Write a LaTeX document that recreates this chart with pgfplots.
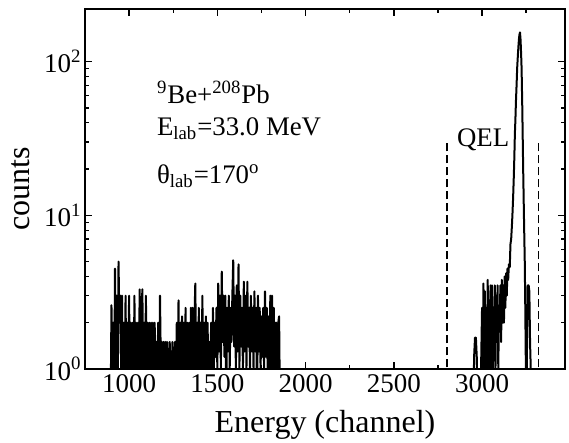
\documentclass[border=0pt]{standalone}
\usepackage{fontspec}
\setmainfont{Liberation Serif}
\usepackage{pgfplots}
\pgfplotsset{compat=1.18}

\begin{document}
\begin{tikzpicture}
\begin{axis}[
  scale only axis,
  width=240pt, height=180pt,
  xmin=750, xmax=3470,
  ymode=log, ymin=1, ymax=220,
  xtick={1000,1500,...,3000},
  minor xtick={1250,1750,2250,2750,3250},
  ytick={1,10,100},
  yticklabels={10\textsuperscript{0},10\textsuperscript{1},10\textsuperscript{2}},
  /pgf/number format/set thousands separator={},
  /pgf/number format/assume math mode=true,
  tick label style={font=\fontsize{13.5}{15}\selectfont},
  yticklabel style={inner xsep=1.5pt},
  xticklabel style={inner ysep=2.5pt},
  major tick length=3.5pt, minor tick length=2pt,
  every tick/.style={black, line width=0.7pt},
  axis line style={line width=0.8pt},
  xlabel={Energy (channel)},
  ylabel={counts},
  every axis x label/.style={at={(axis description cs:0.5,-0.156)}, anchor=center,
    font=\fontsize{16}{18}\selectfont},
  every axis y label/.style={at={(axis description cs:-0.135,0.5)}, rotate=90, anchor=center,
    font=\fontsize{16}{18}\selectfont},
  clip=true,
]

% low-energy part of the spectrum
\addplot[black, line width=1pt, line join=round] coordinates {
(895,0.5)(900,2.6)(905,1)(910,2)(915,0.5)(920,4.5)(925,1)(930,3)(935,0.5)(940,5)
(945,2)(950,3)(955,1)(960,3)(965,0.5)(970,2)(975,1)(980,3)(985,0.5)(990,2)(995,1)
(1000,3)(1005,0.5)(1010,2)(1015,1)(1020,2)(1025,0.5)(1030,3)(1035,1)(1040,2)(1045,0.5)
(1050,2)(1055,1)(1060,3.3)(1065,0.5)(1070,2)(1075,3.3)(1080,1)(1085,2)(1090,0.5)(1095,3)
(1100,1)(1105,2)(1110,0.5)(1115,2)(1120,1)(1125,2)(1130,0.5)(1135,2)(1140,1)(1145,2)
(1150,0.5)(1155,1.5)(1160,1)(1165,2)(1170,0.5)(1175,3)(1180,1)(1185,1.5)(1190,0.5)(1195,1.5)
(1200,1)(1205,1.5)(1210,0.5)(1215,1.5)(1220,1)(1225,0.5)(1230,1.5)(1235,1)(1240,0.5)(1245,1.5)
(1250,1)(1255,0.5)(1260,1.5)(1265,0.5)(1270,2)(1275,1)(1280,2.8)(1285,0.5)(1290,2)(1295,1)
(1300,2.2)(1305,0.5)(1310,2)(1315,1)(1320,2.5)(1325,0.5)(1330,2)(1335,1)(1340,2)(1345,0.5)
(1350,2.5)(1355,1)(1360,2.5)(1365,0.5)(1370,2)(1375,3.6)(1380,1)(1385,2)(1390,0.5)(1395,2.5)
(1400,1)(1405,2)(1410,0.5)(1415,3)(1420,1)(1425,2)(1430,0.5)(1435,2.2)(1440,1)(1445,2)
(1450,0.5)(1455,1.5)(1460,1)(1465,2)(1470,0.5)(1475,2.5)(1480,1)(1485,2)(1490,1.2)(1495,2.5)
(1500,1)(1505,3.6)(1510,1.3)(1515,3)(1520,1)(1525,4.3)(1530,1.5)(1535,3)(1540,1.2)(1545,3)
(1550,0.5)(1555,2.5)(1560,1.3)(1565,3)(1570,1)(1575,2.5)(1580,1.5)(1585,3)(1590,5.1)(1595,1.4)
(1600,3)(1605,1)(1610,3.5)(1615,1.3)(1620,4.8)(1625,1)(1630,3)(1635,1.4)(1640,2.5)(1645,1)
(1650,3.7)(1655,1.3)(1660,3)(1665,1)(1670,3.7)(1675,1.4)(1680,2.5)(1685,1)(1690,3)(1695,1.3)
(1700,2.5)(1705,1)(1710,3.2)(1715,1.3)(1720,2.5)(1725,0.5)(1730,3)(1735,1.3)(1740,2.5)(1745,1)
(1750,2.2)(1755,1.2)(1760,2.5)(1765,1)(1770,3.2)(1775,1.2)(1780,2.5)(1785,1)(1790,2.2)(1795,0.5)
(1800,3)(1805,1)(1810,3)(1815,0.5)(1820,2.5)(1825,0.5)(1830,2)(1835,2)(1840,0.5)(1845,2)
(1850,2.2)(1855,0.5)};

% quasi-elastic peak
\addplot[black, line width=1pt, line join=round] coordinates {
(2950,0.5)(2955,1.2)(2960,1.6)(2965,1.6)(2970,1.2)(2975,0.5)(2990,0.5)
(3000,2.5)(3004,0.5)(3008,3.6)(3012,0.5)(3016,3.2)(3020,1)(3024,2.5)(3028,0.5)(3032,3.8)
(3036,1)(3040,2.8)(3044,0.5)(3048,3.5)(3052,1)(3056,3.5)(3060,0.5)(3064,2.5)(3068,1.5)
(3072,3.5)(3076,1)(3080,3)(3084,1.5)(3088,3.5)(3092,1)(3096,2.5)(3100,2)(3104,3.5)
(3108,1.5)(3112,3.8)(3116,2)(3120,3.5)(3124,2)(3128,4)(3132,2.5)(3136,4.2)(3140,3)
(3144,4.5)(3148,3.8)(3152,4.8)(3157,4.6)(3161,6.5)(3165,7)(3169,8.5)(3172,10)(3176,13)
(3180,18)(3183,24)(3186,34)(3189,42)(3192,55)(3196,72)(3199,91)(3203,110)(3206,125)
(3209,140)(3212,150)(3215,155)(3218,140)(3221,115)(3224,91)(3228,50)(3233,20)(3238,9)
(3242,5)(3245,2.5)(3248,1.1)(3251,0.5)(3255,1.5)(3259,3.5)(3264,3.5)(3268,3.2)(3272,1.5)
(3276,1)(3282,0.5)};

% QEL window
\addplot[black, line width=0.9pt, dash pattern=on 4pt off 2pt] coordinates {(2800,0.5)(2800,30)};
\addplot[black, line width=0.9pt, dash pattern=on 4pt off 2pt] coordinates {(3320,0.5)(3320,30)};

\node[anchor=base west, inner sep=0pt, font=\fontsize{13.4}{15}\selectfont] at (axis cs:2856,28) {QEL};
\node[anchor=base west, inner sep=0pt, font=\fontsize{13.4}{15}\selectfont] at (axis cs:1156,53.4)
  {\textsuperscript{9}Be+\textsuperscript{208}Pb};
\node[anchor=base west, inner sep=0pt, font=\fontsize{13.4}{15}\selectfont] at (axis cs:1156,33.1)
  {E\textsubscript{lab}=33.0 MeV};
\node[anchor=base west, inner sep=0pt, font=\fontsize{13.4}{15}\selectfont] at (axis cs:1156,16.1)
  {θ\textsubscript{lab}=170\textsuperscript{o}};
\end{axis}
\pgfresetboundingbox
\path (current axis.south west) ++(-42.5pt,-36.5pt) coordinate (bbA);
\path (current axis.north east) ++(2pt,4.5pt) coordinate (bbB);
\useasboundingbox (bbA) rectangle (bbB);
\end{tikzpicture}
\end{document}
